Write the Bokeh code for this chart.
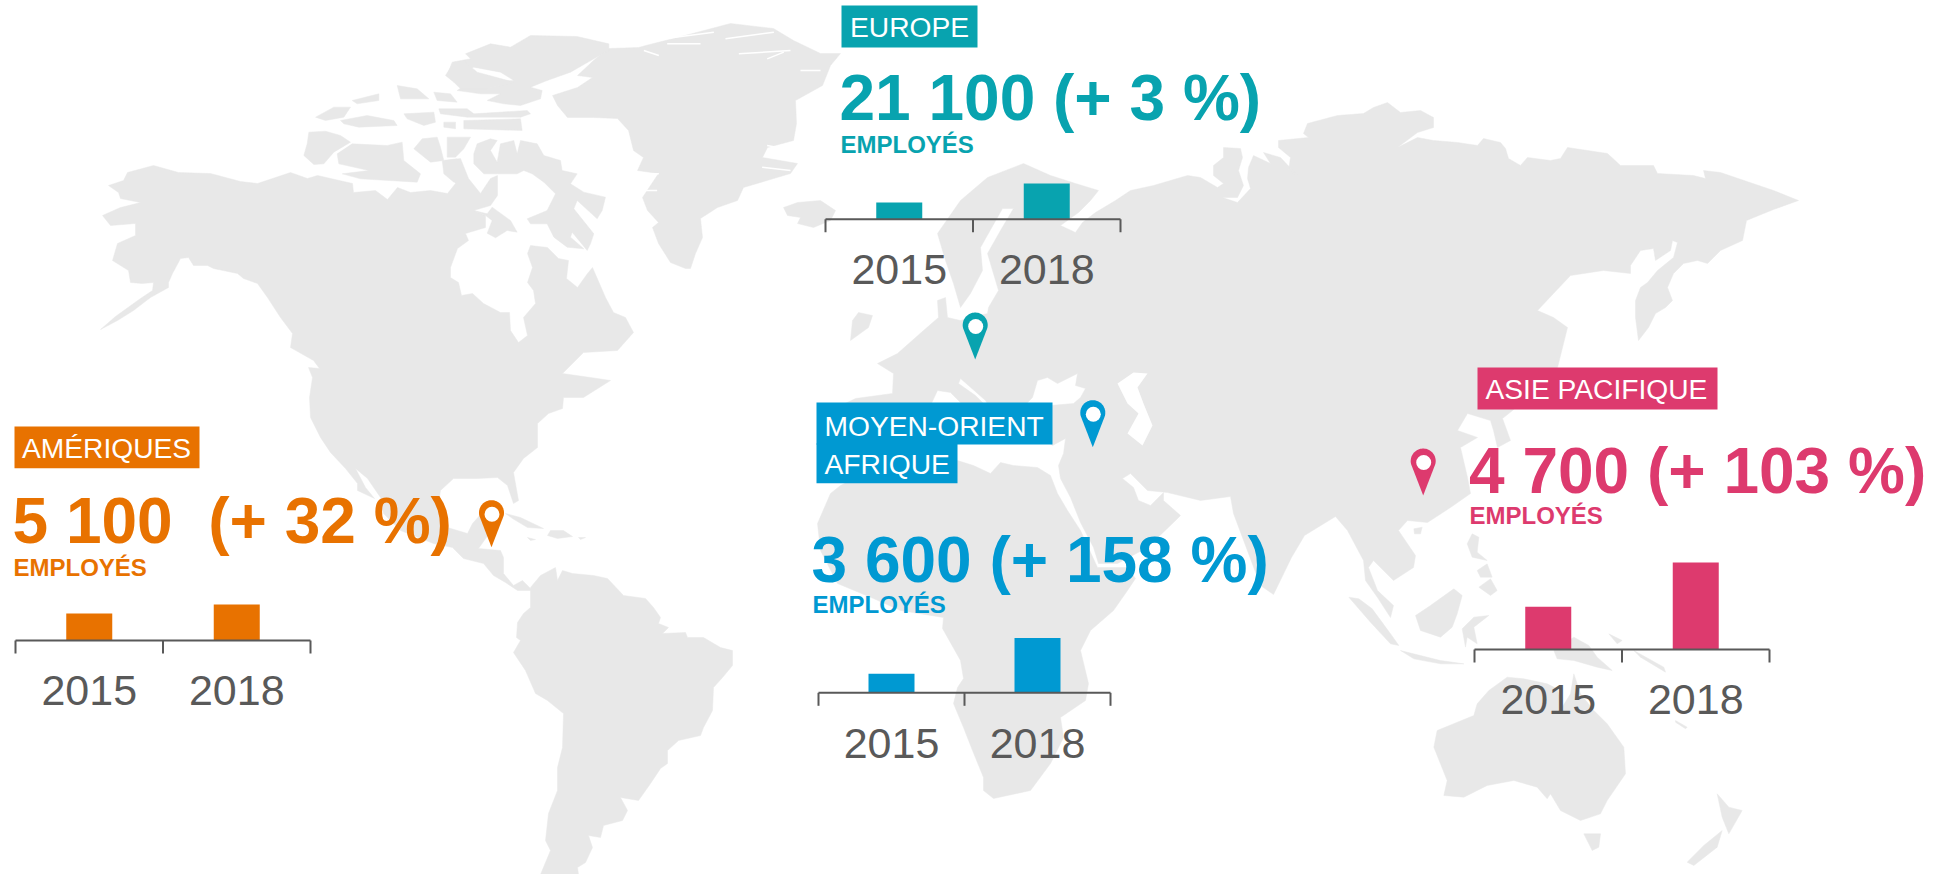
from bokeh.embed import file_html
from bokeh.resources import INLINE
from bokeh.plotting import figure
from bokeh.models import Range1d
from bokeh.core.properties import value
import numpy as np

# ---------- chart values ----------
YEARS = ["2015", "2018"]
REGION_NAMES = ["AMÉRIQUES", "EUROPE", "MOYEN-ORIENT\nAFRIQUE", "ASIE PACIFIQUE"]
HEADLINES = ["5 100  (+ 32 %)", "21 100 (+ 3 %)", "3 600 (+ 158 %)", "4 700 (+ 103 %)"]
UNIT = "EMPLOYÉS"
AMERIQUES_BARS = [27, 36]
EUROPE_BARS = [16.7, 35.7]
MOYEN_ORIENT_BARS = [19, 54.7]
ASIE_BARS = [42.7, 87]
COLOURS = ["#E87200", "#08A3AF", "#0099D2", "#DD3A6E"]
GREY = "#595959"
LAND = "#E8E8E8"

# ---------- page layout of the panels ----------
AXES = [(15, 310, 640), (825, 1120, 218.7), (818, 1110, 692.3), (1474, 1769, 649)]
TICK_LEN = 13
BAR_W = 46
BIG_POS = [(12, 543.3), (839, 120), (811, 581.7), (1468.5, 492.7)]
UNIT_POS = [(13, 575), (840, 152), (812, 612.3), (1469, 523.3)]
YEAR_BASE = [705, 284, 758, 714]
BOXES = [[(14, 199, 426, 467.7)], [(841, 977, 5, 47)],
         [(816, 1052, 402, 444), (816, 957, 443, 482.7)], [(1477, 1717, 367, 409)]]
BOX_TEXT = [[(21.5, 457.7)], [(849.5, 36)], [(824, 435), (824, 473.8)], [(1485, 398.5)]]
PINS = [(491, 546.7), (974.7, 359), (1092.3, 446.7), (1422.7, 495)]
BASE_SHIFT = 0.35

# ---------- map outlines ----------
NORTH_AMERICA = [(108,185),(123,180),(127,172),(153,165),(178,172),(210,173),(240,181),(257,183),(290,172),(307,178),
 (317,175),(352,183),(353,192),(375,190),(387,199),(397,187),(410,192),(430,190),(447,193),(455,183),(445,170),(447,160),
 (460,158),(468,178),(480,193),(490,178),(497,175),(497,195),(490,205),(473,210),(485,215),(485,227),(465,233),(468,240),
 (457,248),(450,267),(450,277),(458,282),(461,295),(472,293),(483,303),(500,312),(509,312),(510,330),(518,342),(527,335),
 (523,317),(535,303),(533,290),(527,282),(532,267),(527,253),(530,245),(547,247),(558,258),(568,260),(566,278),(577,287),
 (587,273),(592,267),(605,297),(613,312),(625,317),(633,332),(617,350),(583,352),(562,373),(590,377),(610,380),(583,397),
 (563,397),(562,408),(548,413),(537,423),(537,447),(523,458),(513,472),(518,500),(513,503),(507,485),(497,477),(477,478),
 (453,478),(440,490),(437,510),(447,527),(467,533),(472,523),(490,503),(498,520),(478,548),(500,550),(503,557),(503,573),
 (513,585),(522,580),(532,590),(517,590),(505,582),(493,575),(483,563),(463,558),(452,547),(433,543),(400,530),(383,513),
 (380,497),(367,478),(355,468),(365,487),(374,498),(357,490),(357,483),(345,468),(330,452),(320,437),(310,417),(309,397),
 (312,377),(308,367),(319,368),(313,360),(290,347),(292,333),(280,317),(267,297),(257,283),(243,278),(237,273),(213,268),
 (207,265),(193,265),(188,257),(180,258),(172,273),(168,282),(168,287),(150,297),(133,310),(117,320),(100,329),(115,316),
 (140,298),(152,290),(153,282),(142,283),(130,282),(128,270),(112,260),(117,243),(135,235),(135,223),(110,225),(102,215),
 (120,207),(140,202),(120,198),(118,192)]
ARCTIC_CROP = [
 [(25,365),(75,362),(120,375),(150,395),(100,425),(70,460),(40,462),(10,435),(20,400)],
 [(110,430),(155,400),(260,405),(305,395),(310,450),(360,490),(350,515),(180,505),(125,490),(205,480),(115,460)],
 [(340,415),(365,385),(410,380),(420,410),(430,450),(390,455)],
 [(440,380),(510,380),(490,415),(465,440),(440,440)],
 [(425,450),(470,445),(495,490),(460,515),(430,490)],
 [(520,430),(530,400),(570,385),(590,390),(570,420),(590,455),(600,400),(640,390),(650,430),(660,390),(710,400),(730,435),
  (780,450),(785,480),(830,490),(810,520),(850,545),(915,560),(905,600),(890,625),(830,570),(820,595),(880,670),(870,700),
  (860,720),(815,665),(810,680),(850,715),(800,710),(760,680),(740,640),(690,640),(680,625),(740,600),(765,550),(730,515),
  (695,490),(670,480),(650,490),(590,490),(550,490),(520,460)],
 [(520,600),(560,610),(575,590),(630,630),(650,665),(620,660),(585,682),(560,668),(575,630),(555,615)],
 [(495,130),(570,100),(630,110),(690,75),(830,78),(925,100),(925,120),(880,145),(810,185),(740,210),(690,230),(725,240),
  (720,265),(660,285),(610,280),(560,270),(600,250),(540,250),(470,240),(500,220),(640,210),(600,185),(520,170),(440,195),
  (455,155),(510,145)],
 [(435,195),(460,155),(495,155),(530,185),(640,215),(560,235),(480,235),(460,215)],
 [(415,295),(500,295),(520,310),(680,300),(690,310),(660,320),(500,320),(420,310)],
 [(400,245),(450,250),(470,275),(410,270)],
 [(290,225),(350,235),(385,265),(300,265)],
 [(155,270),(235,250),(235,270),(170,280)],
 [(45,320),(100,290),(150,290),(130,320),(75,330)],
 [(120,330),(200,315),(280,330),(290,345),(175,350),(130,340)],
 [(310,310),(400,305),(405,335),(370,345),(320,325)],
 [(490,330),(660,325),(665,360),(490,355)],
 [(430,335),(465,335),(465,355),(430,350)],
]
GREENLAND = [(552,95),(577,87),(592,77),(577,75),(593,60),(608,48),(638,47),(653,43),(677,37),(730,23),(773,28),(793,40),
 (820,53),(840,53),(830,65),(822,85),(795,100),(796,123),(793,140),(767,147),(762,157),(797,163),(790,173),(743,187),
 (737,200),(717,207),(700,218),(702,237),(695,253),(690,268),(685,268),(670,262),(658,243),(652,227),(658,222),(647,210),
 (642,197),(658,173),(637,170),(643,157),(633,150),(628,130),(617,118),(593,117),(567,117),(557,105)]
FJORDS_CROP = [[(1275,85),(1420,65)],[(1315,130),(1470,120)],[(1400,145),(1450,125)],[(1090,85),(1240,65)],
 [(1030,120),(1075,135)],[(1100,100),(1200,100)],[(1010,490),(1075,490)],[(1030,540),(1070,540)],[(1400,405),(1480,420)],
 [(1385,470),(1470,480)],[(1500,180),(1560,180)],[(1490,340),(1540,345)]]
ICELAND = [(783,207),(797,202),(820,200),(835,210),(830,220),(813,227),(797,223),(800,217),(787,215)]
IRELAND = [(858,312),(872,315),(868,327),(850,340),(852,320)]
SOUTH_AMERICA = [(530,587),(540,575),(555,567),(557,580),(562,570),(572,573),(593,575),(607,578),(623,595),(645,598),
 (653,607),(660,617),(658,623),(668,627),(662,633),(685,632),(687,637),(703,637),(720,647),(732,650),(732,665),(722,677),
 (713,687),(712,710),(703,727),(700,735),(678,740),(667,750),(667,763),(660,768),(650,783),(638,800),(620,797),(627,810),
 (622,820),(603,825),(600,837),(588,835),(592,847),(585,862),(577,867),(578,874),(540,874),(550,850),(545,840),(548,813),
 (557,790),(557,767),(562,747),(563,713),(547,700),(535,693),(525,670),(513,652),(520,640),(516,637),(517,622),(523,613),
 (530,607)]
CARIBBEAN = [[(505,513),(520,517),(543,528),(527,527),(512,518)],[(550,530),(563,530),(572,536),(557,538),(547,535)],
 [(527,537),(535,539),(530,540)],[(578,537),(585,537),(580,539)]]
AFRICA = [(817,523),(830,493),(840,485),(870,470),(900,465),(957,460),(973,465),(990,473),(1000,462),(1013,465),(1037,467),
 (1050,475),(1057,493),(1067,510),(1080,530),(1097,567),(1127,567),(1135,578),(1127,590),(1113,610),(1090,630),(1080,650),
 (1088,683),(1085,700),(1060,717),(1063,737),(1050,763),(1030,790),(993,798),(983,790),(983,777),(972,750),(963,727),
 (953,703),(957,687),(963,678),(960,660),(942,628),(943,617),(900,610),(873,598),(837,583),(820,550)]
EURASIA = [(855,398),(830,410),(830,440),(860,450),(890,445),(905,425),(930,405),(937,390),(950,392),(963,405),(985,420),
 (985,405),(975,395),(958,383),(960,378),(985,400),(1000,425),(1030,425),(1027,402),(1032,397),(1037,380),(1047,377),
 (1057,383),(1077,373),(1075,385),(1085,388),(1080,397),(1073,403),(1050,405),(1030,430),(1052,445),(1065,438),(1063,453),
 (1058,465),(1060,478),(1070,497),(1080,522),(1093,547),(1098,563),(1117,563),(1147,547),(1173,522),(1180,515),(1163,500),
 (1163,492),(1150,505),(1138,500),(1133,487),(1122,478),(1130,473),(1147,490),(1167,492),(1200,500),(1230,496),(1233,513),
 (1236,521),(1260,585),(1273,594),(1291,557),(1304,535),(1335,516),(1347,530),(1363,560),(1365,580),(1377,597),(1390,617),
 (1393,605),(1377,590),(1368,567),(1373,560),(1393,580),(1413,567),(1415,555),(1398,530),(1407,520),(1427,522),(1450,507),
 (1470,493),(1467,477),(1460,447),(1477,437),(1457,430),(1467,413),(1490,420),(1493,430),(1497,447),(1510,440),(1502,418),
 (1512,410),(1540,385),(1557,367),(1563,343),(1567,327),(1553,317),(1537,310),(1553,293),(1570,275),(1603,270),(1630,273),
 (1630,265),(1640,250),(1653,248),(1655,260),(1670,250),(1672,240),(1677,242),(1673,257),(1657,270),(1647,282),(1640,287),
 (1635,300),(1635,317),(1638,340),(1648,327),(1655,313),(1665,307),(1672,300),(1667,287),(1673,273),(1683,263),(1697,260),
 (1707,263),(1720,250),(1742,240),(1746,220),(1773,209),(1798,200),(1773,190),(1720,172),(1703,170),(1705,178),(1693,175),
 (1657,173),(1653,165),(1620,165),(1607,153),(1567,147),(1560,158),(1550,160),(1527,157),(1520,165),(1508,158),(1505,148),
 (1500,142),(1483,138),(1477,145),(1457,142),(1433,140),(1417,137),(1397,147),(1417,132),(1433,127),(1433,117),(1420,110),
 (1400,112),(1387,102),(1373,107),(1363,113),(1337,115),(1307,123),(1303,133),(1308,137),(1278,140),(1278,147),(1290,157),
 (1288,170),(1297,175),(1280,157),(1263,152),(1270,163),(1253,155),(1248,167),(1247,178),(1250,188),(1237,202),(1222,197),
 (1237,197),(1243,185),(1238,170),(1242,157),(1240,148),(1223,147),(1223,157),(1213,165),(1213,175),(1223,183),(1217,187),
 (1200,177),(1187,175),(1153,185),(1130,190),(1115,200),(1095,212),(1082,222),(1075,232),(1060,225),(1078,212),(1090,200),
 (1098,190),(1075,183),(1050,175),(1023,163),(987,177),(960,200),(937,233),(945,260),(953,283),(960,307),(970,293),(982,270),
 (980,247),(1002,208),(1013,208),(1000,230),(987,253),(998,290),(988,307),(987,313),(960,320),(947,317),(945,297),(937,300),
 (938,317),(923,330),(897,353),(877,363),(893,373),(892,393)]
CASPIAN = [(1117,383),(1133,372),(1147,373),(1137,387),(1143,403),(1152,425),(1142,445),(1127,433),(1138,413),(1127,403)]
OCEANIA_CROP = [
 [(25,350),(55,355),(95,385),(150,460),(175,495),(150,490),(90,425)],
 [(180,510),(240,525),(300,540),(370,550),(300,550),(220,535)],
 [(225,405),(270,375),(340,325),(365,345),(350,400),(335,440),(300,470),(240,450)],
 [(365,445),(400,410),(445,405),(400,440),(410,490),(380,470),(375,500)],
 [(380,190),(395,160),(415,170),(410,215),(440,240),(395,230)],
 [(415,320),(450,295),(470,330),(450,345)],
 [(410,270),(440,250),(455,290),(420,290)],
 [(220,145),(245,140),(240,160),(222,160)],
 [(640,510),(700,470),(745,495),(770,530),(815,570),(770,560),(700,540),(650,535)],
 [(805,460),(845,480),(830,490)],
 [(880,510),(970,560),(975,575),(900,530)],
 [(1005,720),(1040,740),(1035,745),(1005,725)],
 [(290,750),(400,705),(410,670),(445,630),(500,590),(550,595),(620,610),(650,625),(665,680),(690,640),(700,580),(720,640),
  (760,690),(800,730),(850,800),(855,880),(800,960),(780,1000),(720,1020),(660,990),(630,940),(620,955),(590,920),(520,900),
  (440,915),(370,950),(310,945),(320,900),(280,800)],
 [(730,1060),(780,1060),(775,1100),(755,1110)],
 [(1130,940),(1165,980),(1205,990),(1165,1060),(1145,1010)],
 [(1145,1050),(1130,1100),(1060,1155),(1040,1145),(1090,1095)],
]


def crop(points, ox, oy):
    return [(ox + x / 3, oy + y / 3) for x, y in points]


land = [NORTH_AMERICA, GREENLAND, ICELAND, IRELAND, SOUTH_AMERICA, AFRICA, EURASIA] + CARIBBEAN
land += [crop(s, 300, 10) for s in ARCTIC_CROP]
land += [crop(s, 1340, 480) for s in OCEANIA_CROP]

p = figure(width=1939, height=874, x_range=Range1d(0, 1939), y_range=Range1d(874, 0),
           x_axis_type=None, y_axis_type=None, toolbar_location=None, output_backend="svg",
           min_border=0, outline_line_color=None, background_fill_color="white")
p.grid.visible = False

p.patches([[q[0] for q in s] for s in land], [[q[1] for q in s] for s in land],
          fill_color=LAND, line_color=LAND, line_width=0.5)
p.patch([q[0] for q in CASPIAN], [q[1] for q in CASPIAN], fill_color="white", line_color=None)
fj = [crop(s, 300, 10) for s in FJORDS_CROP]
p.multi_line([[q[0] for q in s] for s in fj], [[q[1] for q in s] for s in fj], line_color="white", line_width=1.5)

FONT = value("Liberation Sans")
bars = [AMERIQUES_BARS, EUROPE_BARS, MOYEN_ORIENT_BARS, ASIE_BARS]


def label(xs, ys, texts, size, colour, style="normal", align="left"):
    p.text(xs, [y - BASE_SHIFT * size for y in ys], text=texts, text_font=FONT, text_font_size=f"{size}px",
           text_font_style=style, text_color=colour, text_baseline="alphabetic", text_align=align)


for i, colour in enumerate(COLOURS):
    x0, x1, ay = AXES[i]
    step = (x1 - x0) / 2
    for (l, r, t, b) in BOXES[i]:
        p.quad(left=l, right=r, top=t, bottom=b, fill_color=colour, line_color=None)
    for (tx, ty), name in zip(BOX_TEXT[i], REGION_NAMES[i].split("\n")):
        label([tx], [ty], [name], 28.2, "white")
    label([BIG_POS[i][0]], [BIG_POS[i][1]], [HEADLINES[i].replace("  ", " \u00a0")], 64, colour, "bold")
    label([UNIT_POS[i][0]], [UNIT_POS[i][1]], [UNIT], 24, colour, "bold")
    centres = [x0 + (j + 0.5) * step for j in range(2)]
    p.vbar(x=centres, width=BAR_W, bottom=[ay, ay], top=[ay - h for h in bars[i]], fill_color=colour, line_color=None)
    p.segment([x0], [ay], [x1], [ay], line_color=GREY, line_width=2)
    ticks = [x0, x0 + step, x1]
    p.segment(ticks, [ay] * 3, ticks, [ay + TICK_LEN] * 3, line_color=GREY, line_width=2)
    label(centres, [YEAR_BASE[i]] * 2, YEARS, 43, GREY, align="center")
    tx, ty = PINS[i]
    r = 12.5
    cy = ty - 47 + r
    a = np.linspace(-0.1 * np.pi, 1.1 * np.pi, 40)
    px = list(tx + r * np.cos(a + np.pi)) + [tx]
    py = list(cy - r * np.sin(a)) + [ty]
    p.patch(px, py, fill_color=colour, line_color=None)
    p.scatter([tx + 0.5], [cy + 1.5], size=15, marker="circle", fill_color="white", line_color=None)

open("out.html", "w").write(file_html(p, INLINE))
